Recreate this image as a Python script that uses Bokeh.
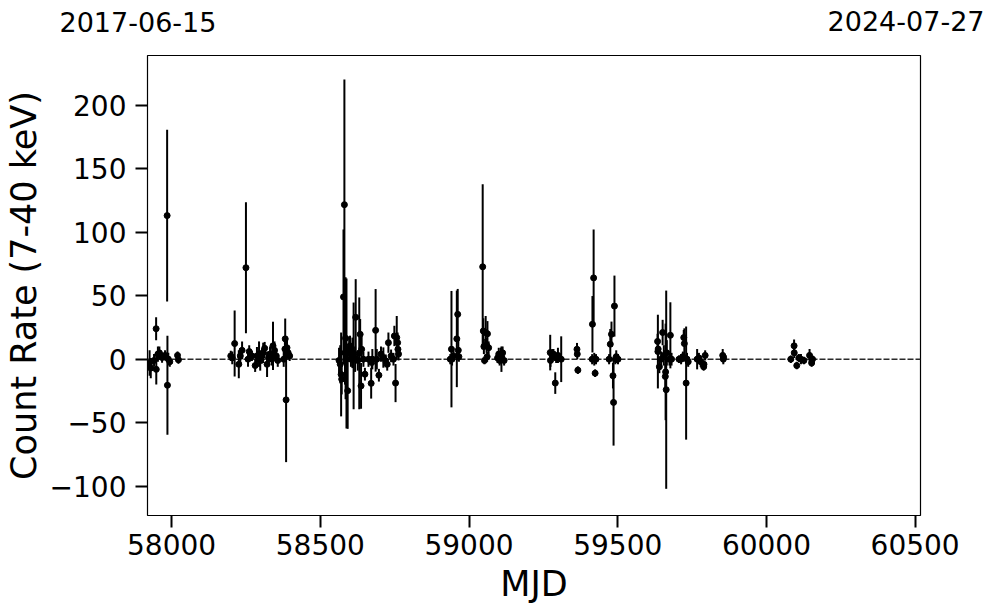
import numpy as np
from bokeh.plotting import figure
from bokeh.models import ColumnDataSource, Range1d, FixedTicker, Span, Label
from bokeh.embed import file_html
from bokeh.resources import INLINE

mjd = [
    57926, 57930, 57941, 57948, 57948.5, 57954, 57959, 57968, 57978, 57985, 57986, 57989, 57994, 58020, 58023,
    58199, 58204, 58212, 58226, 58231, 58237, 58250, 58257, 58261, 58270, 58281, 58287, 58294, 58298, 58304,
    58308, 58313, 58321, 58326, 58331, 58337, 58341, 58346, 58352, 58357, 58377, 58381, 58382, 58385, 58388,
    58392, 58397,
    58563, 58567, 58570, 58572, 58578, 58581, 58583, 58585, 58588, 58592, 58597, 58600, 58603, 58608, 58612,
    58617, 58619, 58626, 58631, 58634, 58637, 58639, 58645, 58650, 58662, 58671, 58673, 58675, 58686, 58690,
    58697, 58704, 58712, 58720, 58725, 58729, 58738, 58746, 58749, 58753, 58757, 58760, 58761, 58763,
    58937, 58941, 58943, 58948, 58959, 58962, 58964, 58966,
    59046, 59048, 59050, 59052, 59056, 59059, 59061, 59062, 59066,
    59096, 59100, 59103, 59107, 59109, 59113, 59118,
    59273, 59274, 59280, 59284, 59290, 59293, 59299, 59310,
    59363, 59364, 59366,
    59414, 59415, 59419, 59421, 59424, 59427,
    59471, 59475, 59479, 59484, 59486, 59489, 59492, 59495, 59501,
    59634, 59635, 59636, 59640, 59646, 59651, 59655, 59660, 59661, 59663, 59665, 59674, 59677, 59681,
    59706, 59713, 59719, 59722, 59724, 59730, 59733, 59737,
    59767, 59773, 59779, 59789, 59790, 59794,
    59853, 59855, 59856,
    60082, 60093, 60093.5, 60102, 60109, 60116, 60126, 60145, 60152, 60155,
]
rate = [
    -3, -7, -1, 24, -8, 4, 5, 1.3, 3, 113, -20.5, 0, -2, 3, -0.5,
    2.6, 1, 12.3, -4, 2.6, 7, 72, 0, 6, 2.6, -5, 2.6, 4, -1, 2.6,
    5, 8.6, -4, 1, 4, 0, 10.5, 7, 2.6, -1, 0, 8, 16, -32, 9,
    5, 2.6,
    -1, -4, -12, -15.7, 49, 121.6, 5, 16.5, 4.5, -24.8, 7.8, 10.5, 0, 5, 2.6,
    0, 33, -1, 4.6, 19.6, -21, 7.8, 0, -11.8, 0, -19, -2.6, 0, 22.7, 0,
    -12.6, 4, 1.3, -1.3, -4, 13, 2.6, 0, 18.3, -18.8, 17, 13, 7.8, 4,
    0, 7.9, 0, 2.6, 16, 35.3, 7, 2,
    72.7, 22.2, 10, -1, 21, 11, 2, 20, 9,
    1, 4, -1, 3, 0, 5, -1,
    5.2, -1, 3, 4, -18.8, 1, 3, 0,
    7.8, 4, -8.6,
    0, 27.5, 64, 0, -11, 0,
    0, 11.8, 19.6, -13, -34, 41.8, 0, 2, 0,
    14, 6, 8, -6, 0, 21, 3, -13.6, -10, -24, 5, 0, 18.8, 0,
    0, 0, 2, 17, 12.3, -18.8, 0, -2,
    0, 1, -2, -6, -4, 3,
    3, 0, 1.5,
    0, 10.5, 5, -5, 1, 0, -1, 3, -3, 0,
]
rate_err = [
    10, 8, 5, 9, 12, 6, 5, 4, 4, 67.6, 39, 5, 4, 3, 3,
    4, 5, 26, 11, 6, 7, 51.6, 6, 5, 4, 5, 7, 10, 8, 6,
    8, 5, 10, 5, 6, 5, 19, 7, 5, 5, 6, 10, 16, 49, 8,
    5, 4,
    10, 15, 33, 12, 53, 98.6, 25, 48, 59, 30, 10, 8, 6, 12, 42,
    10, 30, 8, 44, 12, 18, 10, 6, 5, 6, 12, 5, 8, 32.5, 8,
    5, 6, 8, 5, 5, 8, 5, 5, 8, 15, 17, 8, 6, 5,
    4, 45.8, 5, 4, 38, 20, 8, 4,
    65, 10, 6, 3, 13, 6, 4, 10, 5,
    4, 5, 4, 6, 10, 5, 4,
    14, 5, 5, 4, 8.5, 4, 6, 18,
    5, 4, 3,
    4, 22.2, 38, 5, 3, 4,
    4, 12, 10, 10, 34, 24, 4, 5, 4,
    6, 29, 6, 5, 6, 10, 8, 10, 38, 78, 10, 5, 26, 5,
    3, 4, 4, 6, 12, 44.5, 5, 4,
    8, 4, 4, 3, 3, 4,
    5, 4, 3,
    3, 5, 4, 3, 3, 4, 3, 5, 3, 3,
]

x_ticks = [58000, 58500, 59000, 59500, 60000, 60500]
y_ticks = [-100, -50, 0, 50, 100, 150, 200]
start_label = "2017-06-15"
end_label = "2024-07-27"
x_title = "MJD"
y_title = "Count Rate (7-40 keV)"

FONT = "DejaVu Sans"
W = 990
H = 606

mjd_a = np.array(mjd, dtype=float)
rate_a = np.array(rate, dtype=float)
err_a = np.array(rate_err, dtype=float)
src = ColumnDataSource(dict(x=mjd_a, y=rate_a, lo=rate_a - err_a, hi=rate_a + err_a))

p = figure(width=W, height=H, output_backend="svg", toolbar_location=None,
           x_range=Range1d(57919, 60518), y_range=Range1d(-123, 239),
           min_border_left=145, min_border_right=70, min_border_top=55, min_border_bottom=89)
p.grid.visible = False
p.outline_line_color = "black"
p.outline_line_width = 1.2
p.background_fill_color = "white"
p.border_fill_color = "white"

p.add_layout(Span(location=0, dimension="width", line_color="#2a2a2a", line_width=1.6,
                  line_dash="6 2", level="underlay"))

p.segment(x0="x", y0="lo", x1="x", y1="hi", source=src, line_color="black", line_width=2)
p.scatter(x="x", y="y", source=src, size=6, marker="circle", fill_color="black", line_color="black")

p.xaxis.ticker = FixedTicker(ticks=x_ticks)
p.yaxis.ticker = FixedTicker(ticks=y_ticks)
p.yaxis.major_label_overrides = {t: (str(t).replace("-", "\u2212")) for t in y_ticks}
for ax in (p.xaxis[0], p.yaxis[0]):
    ax.axis_line_color = None
    ax.major_tick_in = 0
    ax.major_tick_out = 12
    ax.major_tick_line_width = 2
    ax.minor_tick_line_color = None
    ax.major_label_text_font = FONT
    ax.major_label_text_font_size = "28px"
    ax.major_label_text_color = "black"
    ax.axis_label_text_font = FONT
    ax.axis_label_text_font_size = "35px"
    ax.axis_label_text_font_style = "normal"
    ax.axis_label_text_color = "black"
p.xaxis.axis_label = x_title
p.yaxis.axis_label = y_title
p.xaxis.major_label_standoff = 6
p.xaxis.axis_label_standoff = 6
p.yaxis.major_label_standoff = 9
p.yaxis.axis_label_standoff = 3

# date labels sit in the panel above the frame (not clipped there);
# x given in screen pixels from the frame's left edge
p.add_layout(Label(x=-88, y=24, x_units="screen", y_units="screen", text=start_label,
                   text_font=FONT, text_font_size="27px", text_baseline="bottom", text_align="left",
                   text_color="black"), "above")
p.add_layout(Label(x=837, y=5, x_units="screen", y_units="screen", text=end_label,
                   text_font=FONT, text_font_size="27px", text_baseline="bottom", text_align="right",
                   text_color="black"), "above")

open("out.html", "w").write(file_html(p, INLINE))
